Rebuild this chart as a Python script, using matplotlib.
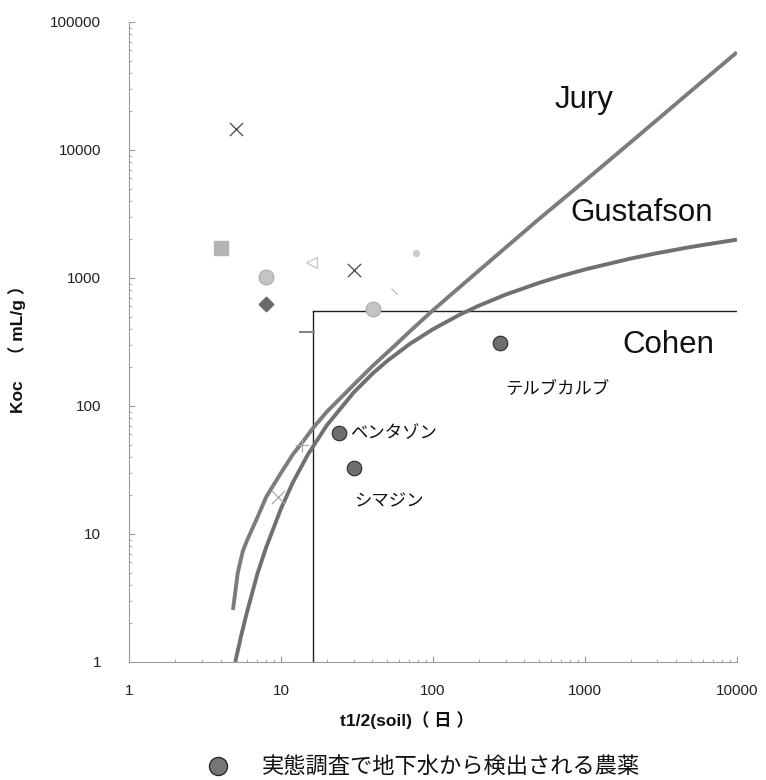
import matplotlib
matplotlib.use("Agg")
import matplotlib.pyplot as plt
from matplotlib.lines import Line2D

plt.rcParams['font.family'] = ['Liberation Sans', 'Noto Sans CJK JP', 'DejaVu Sans']

# ---------------- data ----------------
jury_t = [4.83, 5.2, 5.6, 6.0, 7.0, 8.0, 10, 12, 14, 16.2, 20, 30, 40, 55, 70, 100,
          200, 500, 1000, 2000, 5000, 10000]
jury_koc = [2.55, 5.0, 7.3, 9.0, 13.5, 19.5, 30, 42, 53, 67, 90, 146, 205, 290, 380, 560,
            1140, 2900, 5750, 11500, 29000, 58000]

gus_t = [5, 5.5, 6, 7, 8, 10, 12, 15, 20, 30, 40, 50, 70, 100, 150, 200, 300, 500, 700,
         1000, 2000, 3000, 5000, 10000]
gus_koc = [1.0, 1.65, 2.5, 4.9, 7.9, 15.8, 25.4, 41.6, 70.5, 127, 179, 225, 304, 398, 517,
           607, 741, 917, 1037, 1166, 1419, 1565, 1750, 1995]

cohen_t = 16.3
cohen_koc = 550
x_max = 10000
y_min = 1

detected_names = ['ベンタゾン', 'シマジン', 'テルブカルブ']
detected_t = [24.1, 30.2, 276]
detected_koc = [61.5, 32.8, 311]

dark_cross_t = [5.06, 30.2]
dark_cross_koc = [14600, 1155]
light_cross_t = [9.56]
light_cross_koc = [19.5]
square_t = [4.03]
square_koc = [1715]
light_circle_t = [7.97, 40.3]
light_circle_koc = [1018, 572]
diamond_t = [7.97]
diamond_koc = [626]
tri_t = [16.0]
tri_koc = [1310]
oval_t = [77.3]
oval_koc = [1567]
slash_t = [55.4]
slash_koc = [791]
plus_t = [13.7]
plus_koc = [49.6]
dash_t = [14.8]
dash_koc = [380]

x_ticks = [1, 10, 100, 1000, 10000]
y_ticks = [1, 10, 100, 1000, 10000, 100000]

# ---------------- figure ----------------
fig = plt.figure(figsize=(7.66, 7.80), dpi=100)
ax = fig.add_axes([0.1684, 0.1513, 0.7937, 0.8205])
ax.set_xscale('log')
ax.set_yscale('log')
ax.set_xlim(1, 10000)
ax.set_ylim(1, 100000)

for s in ['top', 'right']:
    ax.spines[s].set_visible(False)
for s in ['left', 'bottom']:
    ax.spines[s].set_color('#9a9a9a')
    ax.spines[s].set_linewidth(0.8)

ax.set_xticks(x_ticks)
ax.set_xticklabels([str(v) for v in x_ticks])
ax.set_yticks(y_ticks)
ax.set_yticklabels([str(v) for v in y_ticks])
ax.tick_params(which='major', direction='in', length=4, color='#9a9a9a',
               labelsize=11, labelcolor='#222222', pad=16)
ax.tick_params(which='minor', direction='in', length=2.5, color='#9a9a9a')
ax.tick_params(axis='y', which='major', pad=20)

# curves
ax.plot(jury_t, jury_koc, color='#7c7c7c', lw=2.8, solid_capstyle='butt',
        solid_joinstyle='round', zorder=3)
ax.plot(gus_t, gus_koc, color='#707070', lw=2.8, solid_capstyle='butt',
        solid_joinstyle='round', zorder=3)

# Cohen criteria lines
ax.plot([cohen_t, cohen_t], [y_min, cohen_koc], color='#222222', lw=1.0, zorder=2)
ax.plot([cohen_t, x_max], [cohen_koc, cohen_koc], color='#222222', lw=1.0, zorder=2)

# other pesticides (faint markers)
ax.scatter(dark_cross_t, dark_cross_koc, marker='x', s=90, c='#444444', linewidths=0.9, zorder=4)
ax.scatter(light_cross_t, light_cross_koc, marker='x', s=90, c='#aaaaaa', linewidths=0.9, zorder=4)
ax.scatter(square_t, square_koc, marker='s', s=110, c='#b4b4b4', zorder=4)
ax.scatter(light_circle_t, light_circle_koc, marker='o', s=110, c='#c4c4c4', edgecolors='#b0b0b0', zorder=4)
ax.scatter(diamond_t, diamond_koc, marker='D', s=55, c='#6a6a6a', zorder=4)
ax.scatter(tri_t, tri_koc, marker='<', s=60, facecolors='none', edgecolors='#c8c8c8', linewidths=1.0, zorder=4)
ax.scatter(oval_t, oval_koc, marker='o', s=18, c='#cccccc', zorder=4)
ax.scatter(slash_t, slash_koc, marker=(2, 0, 45), s=40, c='#bbbbbb', linewidths=0.8, zorder=4)
ax.scatter(plus_t, plus_koc, marker='+', s=100, c='#aaaaaa', linewidths=0.9, zorder=4)
ax.scatter(dash_t, dash_koc, marker='_', s=120, c='#888888', linewidths=1.5, zorder=4)

# detected pesticides
ax.scatter(detected_t, detected_koc, marker='o', s=110, c='#6e6e6e', edgecolors='#2a2a2a',
           linewidths=0.8, zorder=5)
offsets = [(8, 0), (0, -24), (4, -33)]
for name, t, k, off in zip(detected_names, detected_t, detected_koc, offsets):
    ax.annotate(name, (t, k), xytext=off, textcoords='offset points',
                ha='left', va='center', fontsize=12.5, color='#111111',
                family=['Noto Sans CJK JP', 'DejaVu Sans'])

# model labels
ax.text(0.7007, 0.878, 'Jury', transform=ax.transAxes, fontsize=22.5, ha='left', va='center', color='#111111')
ax.text(0.7253, 0.7016, 'Gustafson', transform=ax.transAxes, fontsize=22.5, ha='left', va='center', color='#111111')
ax.text(0.8109, 0.4953, 'Cohen', transform=ax.transAxes, fontsize=22.5, ha='left', va='center', color='#111111')

# axis labels
fig.text(0.531, 1 - 720 / 780, 't1/2(soil)（ 日 ）', ha='center', va='center', fontsize=12.5,
         fontweight='bold', color='#111111')
fig.text(17 / 766, 1 - 345 / 780, 'Koc　（ mL/g ）', ha='center', va='center', fontsize=12.5,
         fontweight='bold', rotation=90, color='#111111')

# legend
fig.add_artist(Line2D([218 / 766], [1 - 766 / 780], marker='o', markersize=13,
                      markerfacecolor='#767676', markeredgecolor='#2a2a2a',
                      linestyle='none', transform=fig.transFigure))
fig.text(262 / 766, 1 - 766 / 780, '実態調査で地下水から検出される農薬', ha='left', va='center',
         fontsize=16, color='#111111', family=['Noto Sans CJK JP', 'DejaVu Sans'])

fig.savefig('out.png', dpi=100)
